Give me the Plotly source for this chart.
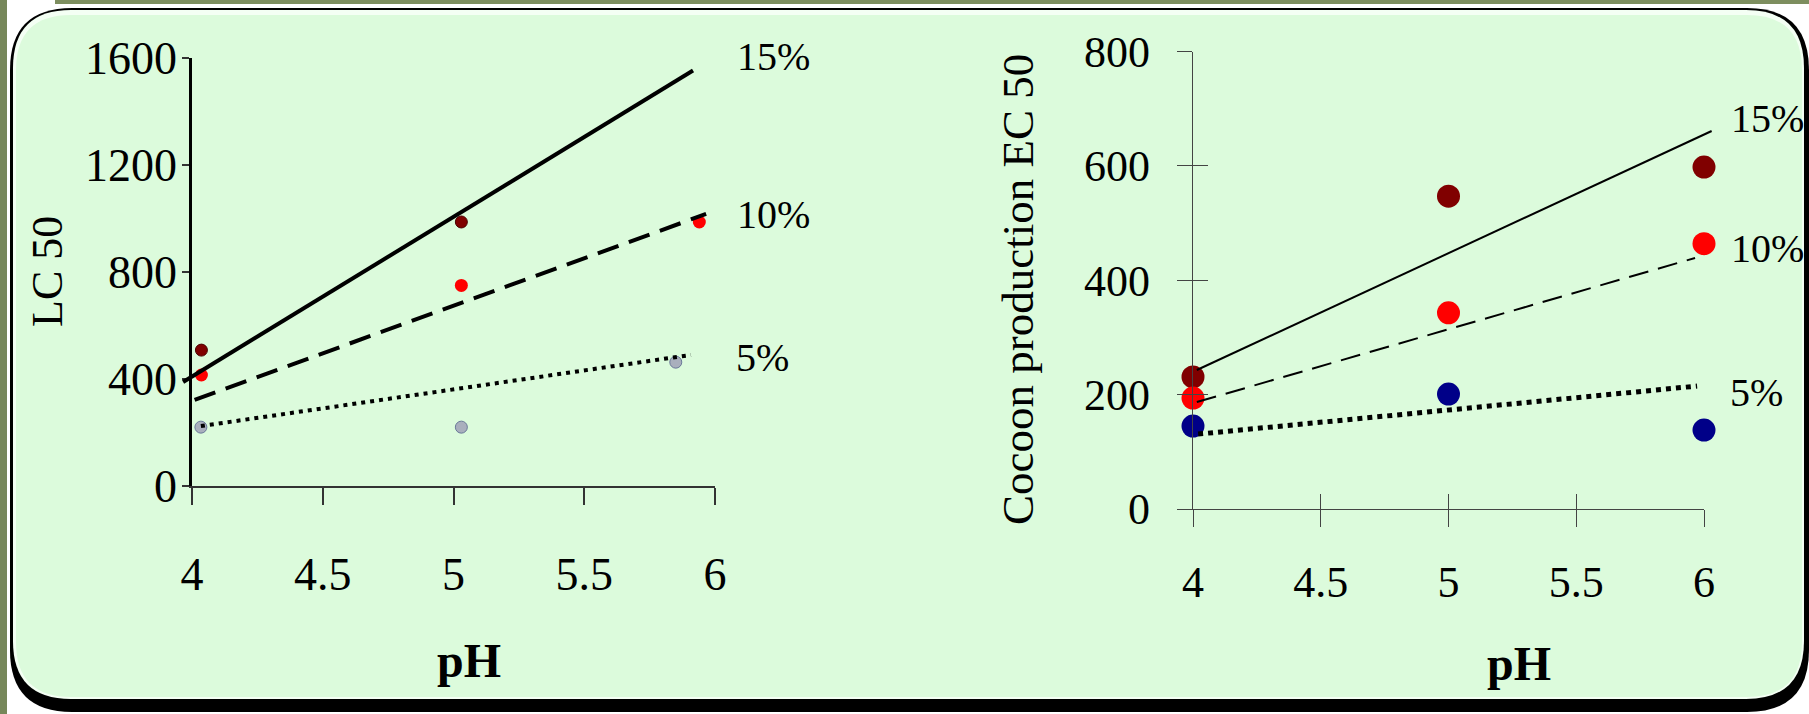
import plotly.graph_objects as go

W, H = 1809, 714


def px(x):
    return x / W


def py(y):
    return 1 - y / H


# ---------------- data ----------------
ph_ticks = [4, 4.5, 5, 5.5, 6]

# Left chart: LC 50
lc_ph_15 = [4.036, 5.03, 5.85]
lc_15 = [508, 987, 1612]
lc_ph_10 = [4.036, 5.03, 5.94]
lc_10 = [415, 750, 987]
lc_ph_5 = [4.034, 5.03, 5.85]
lc_5 = [220, 220, 463]
lc_ticks = [0, 400, 800, 1200, 1600]

# Left trend lines (end points)
lc_tr_ph_15 = [3.966, 5.916]
lc_tr_15 = [389, 1553]
lc_tr_ph_10 = [4.01, 5.966]
lc_tr_10 = [322, 1017]
lc_tr_ph_5 = [4.034, 5.908]
lc_tr_5 = [224, 490]

# Right chart: Cocoon production EC 50
ec_ph = [4, 5, 6]
ec_15 = [231, 547, 598]
ec_10 = [194, 343, 464]
ec_5 = [145, 201, 138]
ec_ticks = [0, 200, 400, 600, 800]

# Right trend lines (end points)
ec_tr_ph_15 = [4.015, 6.03]
ec_tr_15 = [243, 661]
ec_tr_ph_10 = [4.015, 5.965]
ec_tr_10 = [187, 439]
ec_tr_ph_5 = [4.02, 5.973]
ec_tr_5 = [131, 215]

labels = ["15%", "10%", "5%"]

# ---------------- style ----------------
FONT = "Liberation Serif, Times New Roman, serif"
DARKRED = "#800000"
RED = "#ff0000"
GREY = "#a9afbd"
NAVY = "#000088"

fig = go.Figure()

# Left markers
fig.add_trace(go.Scatter(x=lc_ph_15, y=lc_15, mode="markers", xaxis="x", yaxis="y",
                         marker=dict(size=12, color=DARKRED, line=dict(width=1, color="#4a0000")),
                         cliponaxis=False, showlegend=False))
fig.add_trace(go.Scatter(x=lc_ph_10, y=lc_10, mode="markers", xaxis="x", yaxis="y",
                         marker=dict(size=13, color=RED, line=dict(width=0)),
                         cliponaxis=False, showlegend=False))
fig.add_trace(go.Scatter(x=lc_ph_5, y=lc_5, mode="markers", xaxis="x", yaxis="y",
                         marker=dict(size=12, color=GREY, line=dict(width=1, color="#6b7a99")),
                         cliponaxis=False, showlegend=False))

# Left trend lines (on wide invisible axis x3)
fig.add_trace(go.Scatter(x=lc_tr_ph_15, y=lc_tr_15, mode="lines", xaxis="x3", yaxis="y",
                         line=dict(color="black", width=4), showlegend=False))
fig.add_trace(go.Scatter(x=lc_tr_ph_10, y=lc_tr_10, mode="lines", xaxis="x3", yaxis="y",
                         line=dict(color="black", width=4, dash="22px,11px"), showlegend=False))
fig.add_trace(go.Scatter(x=lc_tr_ph_5, y=lc_tr_5, mode="lines", xaxis="x3", yaxis="y",
                         line=dict(color="black", width=4, dash="4px,5px"), showlegend=False))

# Right trend lines (on wide invisible axis x4)
fig.add_trace(go.Scatter(x=ec_tr_ph_15, y=ec_tr_15, mode="lines", xaxis="x4", yaxis="y2",
                         line=dict(color="black", width=2), showlegend=False))
fig.add_trace(go.Scatter(x=ec_tr_ph_10, y=ec_tr_10, mode="lines", xaxis="x4", yaxis="y2",
                         line=dict(color="black", width=2, dash="20px,10px"), showlegend=False))
fig.add_trace(go.Scatter(x=ec_tr_ph_5, y=ec_tr_5, mode="lines", xaxis="x4", yaxis="y2",
                         line=dict(color="black", width=5, dash="5px,5px"), showlegend=False))

# Right markers
fig.add_trace(go.Scatter(x=ec_ph, y=ec_15, mode="markers", xaxis="x2", yaxis="y2",
                         marker=dict(size=23, color=DARKRED, line=dict(width=0)),
                         cliponaxis=False, showlegend=False))
fig.add_trace(go.Scatter(x=ec_ph, y=ec_10, mode="markers", xaxis="x2", yaxis="y2",
                         marker=dict(size=23, color=RED, line=dict(width=0)),
                         cliponaxis=False, showlegend=False))
fig.add_trace(go.Scatter(x=ec_ph, y=ec_5, mode="markers", xaxis="x2", yaxis="y2",
                         marker=dict(size=23, color=NAVY, line=dict(width=0)),
                         cliponaxis=False, showlegend=False))

# invisible trace for the inner-tick overlay axes on the right chart
fig.add_trace(go.Scatter(x=[None], y=[None], xaxis="x5", yaxis="y5", showlegend=False,
                         hoverinfo="skip"))

# ---------------- axes ----------------
L_X0, L_X1 = 192, 715
L_Y0, L_Y1 = 486, 58
R_X0, R_X1 = 1193, 1704
R_Y0, R_Y1 = 509, 51.5

tickfont_l = dict(family=FONT, size=46, color="black")
tickfont_r = dict(family=FONT, size=44, color="black")

fig.update_layout(
    width=W, height=H,
    margin=dict(l=0, r=0, t=0, b=0, pad=0, autoexpand=False),
    paper_bgcolor="white",
    plot_bgcolor="rgba(0,0,0,0)",
    showlegend=False,
    xaxis=dict(domain=[px(L_X0), px(L_X1)], range=[4, 6], anchor="y",
               tickvals=ph_ticks, ticktext=[str(v) for v in ph_ticks],
               showline=True, linecolor="#333333", linewidth=1.5,
               ticks="outside", ticklen=17, tickwidth=1.5, tickcolor="#333333",
               showgrid=False, zeroline=False, tickfont=tickfont_l,
               ticklabelstandoff=30, automargin=False),
    yaxis=dict(domain=[py(L_Y0), py(L_Y1)], range=[0, 1600], anchor="x",
               tickvals=lc_ticks,
               showline=True, linecolor="black", linewidth=2.5,
               ticks="outside", ticklen=7, tickwidth=1.5, tickcolor="#333333",
               showgrid=False, zeroline=False, tickfont=tickfont_l,
               ticklabelstandoff=-4, automargin=False),
    xaxis3=dict(domain=[px(170), px(730)],
                range=[4 - (L_X0 - 170) / (L_X1 - L_X0) * 2, 4 + (730 - L_X0) / (L_X1 - L_X0) * 2],
                anchor="y", visible=False, showgrid=False, zeroline=False, automargin=False),
    xaxis2=dict(domain=[px(R_X0), px(R_X1)], range=[4, 6], anchor="y2",
                tickvals=ph_ticks, ticktext=[str(v) for v in ph_ticks],
                showline=True, linecolor="#444444", linewidth=1.2,
                ticks="outside", ticklen=17, tickwidth=1.2, tickcolor="#444444",
                showgrid=False, zeroline=False, tickfont=tickfont_r,
                ticklabelstandoff=17, automargin=False),
    yaxis2=dict(domain=[py(R_Y0), py(R_Y1)], range=[0, 800], anchor="x2",
                tickvals=ec_ticks,
                showline=True, linecolor="#444444", linewidth=1.2,
                ticks="outside", ticklen=15, tickwidth=1.2, tickcolor="#444444",
                showgrid=False, zeroline=False, tickfont=tickfont_r,
                ticklabelstandoff=18, automargin=False),
    xaxis4=dict(domain=[px(1180), px(1730)],
                range=[4 - (R_X0 - 1180) / (R_X1 - R_X0) * 2, 4 + (1730 - R_X0) / (R_X1 - R_X0) * 2],
                anchor="y2", visible=False, showgrid=False, zeroline=False, automargin=False),
    xaxis5=dict(domain=[px(R_X0), px(R_X1)], range=[4, 6], anchor="y5",
                tickvals=ph_ticks, showticklabels=False, showline=False,
                ticks="inside", ticklen=15, tickwidth=1.2, tickcolor="#444444",
                showgrid=False, zeroline=False, automargin=False),
    yaxis5=dict(domain=[py(R_Y0), py(R_Y1)], range=[0, 800], anchor="x5",
                tickvals=ec_ticks, showticklabels=False, showline=False,
                ticks="inside", ticklen=15, tickwidth=1.2, tickcolor="#444444",
                showgrid=False, zeroline=False, automargin=False),
)


# ---------------- background panel ----------------
def rr(x0, y0, x1, y1, r):
    p = lambda x, y: f"{px(x):.6f},{py(y):.6f}"
    return (f"M {p(x0 + r, y0)} L {p(x1 - r, y0)} Q {p(x1, y0)} {p(x1, y0 + r)} "
            f"L {p(x1, y1 - r)} Q {p(x1, y1)} {p(x1 - r, y1)} "
            f"L {p(x0 + r, y1)} Q {p(x0, y1)} {p(x0, y1 - r)} "
            f"L {p(x0, y0 + r)} Q {p(x0, y0)} {p(x0 + r, y0)} Z")


shapes = [
    dict(type="rect", xref="paper", yref="paper", x0=0, x1=px(7), y0=0, y1=1,
         fillcolor="#76875a", line=dict(width=0), layer="below"),
    dict(type="rect", xref="paper", yref="paper", x0=px(55), x1=1, y0=py(4), y1=1,
         fillcolor="#7d8e5f", line=dict(width=0), layer="below"),
    dict(type="path", xref="paper", yref="paper", path=rr(10, 8, 1809, 712, 62),
         fillcolor="black", line=dict(width=0), layer="below"),
    dict(type="path", xref="paper", yref="paper", path=rr(13, 10, 1804, 699, 58),
         fillcolor="#f4fff4", line=dict(width=0), layer="below"),
    dict(type="path", xref="paper", yref="paper", path=rr(16, 15, 1802, 697, 55),
         fillcolor="#dcfbdc", line=dict(width=0), layer="below"),
]
fig.update_layout(shapes=shapes)

# ---------------- text ----------------
ann = []
lab_font = dict(family=FONT, size=40, color="black")
# series labels placed beside the line ends (pixel positions in the panel)
for t, xp, yp in zip(labels, [773, 773, 762], [57, 214, 357]):
    ann.append(dict(text=t, x=px(xp), y=py(yp), xref="paper", yref="paper", showarrow=False,
                    font=lab_font, xanchor="center", yanchor="middle"))
for t, xp, yp in zip(labels, [1767, 1767, 1756], [119, 248, 392]):
    ann.append(dict(text=t, x=px(xp), y=py(yp), xref="paper", yref="paper", showarrow=False,
                    font=lab_font, xanchor="center", yanchor="middle"))

ann.append(dict(text="<b>pH</b>", x=px(469), y=py(660), xref="paper", yref="paper",
                showarrow=False, font=dict(family=FONT, size=48, color="black"),
                xanchor="center", yanchor="middle"))
ann.append(dict(text="<b>pH</b>", x=px(1519), y=py(663), xref="paper", yref="paper",
                showarrow=False, font=dict(family=FONT, size=48, color="black"),
                xanchor="center", yanchor="middle"))
ann.append(dict(text="LC 50", x=px(47), y=py(272), xref="paper", yref="paper",
                showarrow=False, textangle=-90,
                font=dict(family=FONT, size=44, color="black"),
                xanchor="center", yanchor="middle"))
ann.append(dict(text="Cocoon production EC 50", x=px(1018), y=py(290), xref="paper", yref="paper",
                showarrow=False, textangle=-90,
                font=dict(family=FONT, size=45, color="black"),
                xanchor="center", yanchor="middle"))
fig.update_layout(annotations=ann)

fig.write_html("out.html",
               config={"displayModeBar": False},
               post_script="document.body.style.margin='0px';document.body.style.overflow='hidden';")
